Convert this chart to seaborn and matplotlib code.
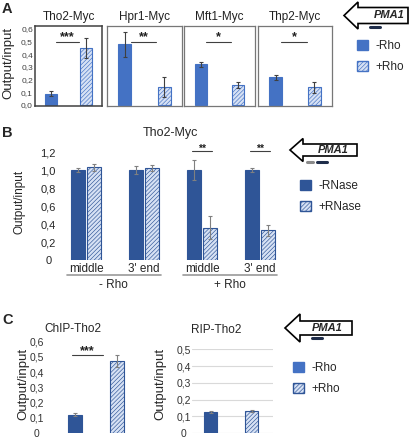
import numpy as np
import pandas as pd
import seaborn as sns
import matplotlib.pyplot as plt
import matplotlib.transforms as mtransforms
from matplotlib.patches import Patch, Polygon
from matplotlib.ticker import FixedLocator, FixedFormatter

sns.set_theme(style="white")
plt.rcParams['font.family'] = ['Liberation Sans', 'DejaVu Sans']
plt.rcParams['hatch.linewidth'] = 0.45

# ---- panel A data
a_proteins = ['Tho2-Myc', 'Hpr1-Myc', 'Mft1-Myc', 'Thp2-Myc']
a_conditions = ['-Rho', '+Rho']
a_minus_rho = [0.09, 0.48, 0.32, 0.22]
a_minus_err = [0.02, 0.10, 0.02, 0.02]
a_plus_rho = [0.45, 0.14, 0.16, 0.14]
a_plus_err = [0.08, 0.08, 0.025, 0.045]
a_stars = ['***', '**', '*', '*']
a_ticks = [0.0, 0.1, 0.2, 0.3, 0.4, 0.5, 0.6]
a_ticklabels = ['0,0', '0,1', '0,2', '0,3', '0,4', '0,5', '0,6']

# ---- panel B data
b_sites = ['middle', "3' end", 'middle', "3' end"]
b_rho = ['- Rho', '- Rho', '+ Rho', '+ Rho']
b_conditions = ['-RNase', '+RNase']
b_minus_rnase = [1.00, 1.00, 1.00, 1.00]
b_minus_err = [0.02, 0.04, 0.11, 0.02]
b_plus_rnase = [1.03, 1.02, 0.36, 0.33]
b_plus_err = [0.04, 0.03, 0.13, 0.06]
b_stars = ['', '', '**', '**']
b_ticks = [0, 0.2, 0.4, 0.6, 0.8, 1.0, 1.2]
b_ticklabels = ['0', '0,2', '0,4', '0,6', '0,8', '1,0', '1,2']

# ---- panel C data
c_titles = ['ChIP-Tho2', 'RIP-Tho2']
c_conditions = ['-Rho', '+Rho']
c_minus_rho = [0.12, 0.125]
c_minus_err = [0.01, 0.005]
c_plus_rho = [0.47, 0.13]
c_plus_err = [0.04, 0.005]
c_stars = ['***', '']
c1_ticks = [0, 0.1, 0.2, 0.3, 0.4, 0.5, 0.6]
c1_ticklabels = ['0', '0,1', '0,2', '0,3', '0,4', '0,5', '0,6']
c2_ticks = [0, 0.1, 0.2, 0.3, 0.4, 0.5]
c2_ticklabels = ['0', '0,1', '0,2', '0,3', '0,4', '0,5']

BLUE = '#4472C4'
LIGHT = '#D6E1F4'
DARK = '#2F5597'
HATCH = '////////'

W, H = 412, 440
fig = plt.figure(figsize=(W / 100, H / 100), dpi=100)


def box(l, t, r, b):
    return [l / W, 1 - b / H, (r - l) / W, (b - t) / H]


def fx(x):
    return x / W


def fy(y):
    return 1 - y / H


def pair_plot(ax, vals, errs, solid, edge, ecolor):
    sns.barplot(x=a_conditions, y=vals, hue=a_conditions, palette=[solid, LIGHT],
                width=0.32, saturation=1, legend=False, errorbar=None, ax=ax)
    ax.patches[0].set_edgecolor(solid)
    ax.patches[1].set_edgecolor(edge)
    ax.patches[1].set_hatch(HATCH)
    for p in ax.patches:
        p.set_linewidth(0.8)
    xs = [p.get_x() + p.get_width() / 2 for p in ax.patches]
    ax.errorbar(xs, vals, yerr=errs, fmt='none', ecolor=ecolor,
                elinewidth=0.8, capsize=1.6, capthick=0.8, zorder=5)


def sig(ax, x0, x1, y, stars, size=10, dy=0.0):
    ax.plot([x0, x1], [y, y], color='#404040', lw=0.8, clip_on=False)
    ax.text((x0 + x1) / 2, y + dy, stars, ha='center', va='bottom',
            fontsize=size, color='#202020', fontweight='bold', clip_on=False)


def pma1(tip, base, right, ymid, hh, sh, tx, bars):
    pts = [(tip, ymid), (base, ymid - hh), (base, ymid - sh), (right, ymid - sh),
           (right, ymid + sh), (base, ymid + sh), (base, ymid + hh)]
    poly = Polygon([(fx(x), fy(y)) for x, y in pts], closed=True, facecolor='white',
                   edgecolor='black', lw=1.2, transform=fig.transFigure)
    fig.patches.append(poly)
    fig.text(fx(tx), fy(ymid), 'PMA1', ha='center', va='center', fontsize=8,
             fontweight='bold', fontstyle='italic')
    for x0, x1, yb, col in bars:
        fig.lines.append(plt.Line2D([fx(x0), fx(x1)], [fy(yb), fy(yb)], lw=2.2,
                                    color=col, transform=fig.transFigure))


# ================= Panel A
a_boxes = [(35, 26, 102, 106), (107, 26, 182, 106), (184, 26, 255, 106), (258, 26, 332, 106)]
for i, prot in enumerate(a_proteins):
    ax = fig.add_axes(box(*a_boxes[i]))
    pair_plot(ax, [a_minus_rho[i], a_plus_rho[i]], [a_minus_err[i], a_plus_err[i]],
              BLUE, BLUE, '#404040')
    ax.set_xlim(-0.45, 1.45)
    ax.set_ylim(-0.008, 0.624)
    ax.set_xticks([])
    ax.set_xlabel('')
    ax.set_ylabel('')
    if i == 0:
        ax.yaxis.set_major_locator(FixedLocator(a_ticks))
        ax.yaxis.set_major_formatter(FixedFormatter(a_ticklabels))
        ax.tick_params(axis='y', labelsize=6, pad=1.5, length=0, colors='#404040')
    else:
        ax.set_yticks([])
    for s in ax.spines.values():
        s.set_visible(True)
        s.set_color('#404040' if i == 0 else '#777777')
        s.set_linewidth(1.1 if i == 0 else 0.9)
    ax.text(0.5, 1 + 9 / 80, prot, transform=ax.transAxes, ha='center', va='center',
            fontsize=8.5, color='#222222')
    sig(ax, 0.15, 0.8, 0.5, a_stars[i], size=9, dy=-0.01)

fig.text(fx(8), fy(63), 'Output/input', rotation=90, ha='center', va='center', fontsize=9.5)
fig.text(fx(7), fy(9), 'A', ha='center', va='center', fontsize=10.5, fontweight='bold')

fig.legend(handles=[Patch(facecolor=BLUE, edgecolor=BLUE),
                    Patch(facecolor=LIGHT, edgecolor=BLUE, hatch=HATCH)],
           labels=a_conditions, loc='upper left', bbox_to_anchor=(fx(357), fy(40)),
           borderaxespad=0, borderpad=0, frameon=False, fontsize=8.5,
           handlelength=0.95, handleheight=0.95, handletextpad=0.6, labelspacing=0.75)

pma1(344, 358, 408, 15.5, 13.5, 8, 389, [(370, 380, 27.5, '#1F2D4A')])

# ================= Panel B
b_keys = [f'{s} {r}' for s, r in zip(b_sites, b_rho)]
df_b = pd.DataFrame({
    'pos': b_keys * 2,
    'RNase': [b_conditions[0]] * 4 + [b_conditions[1]] * 4,
    'value': b_minus_rnase + b_plus_rnase,
})
axb = fig.add_axes(box(60, 143, 285, 260))
sns.barplot(data=df_b, x='pos', y='value', hue='RNase', order=b_keys,
            hue_order=b_conditions, palette=[DARK, LIGHT], width=0.55, gap=0.15,
            saturation=1, legend=False, errorbar=None, ax=axb)
bars_b = axb.patches
for p in bars_b[:4]:
    p.set_edgecolor(DARK)
    p.set_linewidth(0.8)
for p in bars_b[4:8]:
    p.set_edgecolor(DARK)
    p.set_hatch(HATCH)
    p.set_linewidth(0.8)
xs_minus = [p.get_x() + p.get_width() / 2 for p in bars_b[:4]]
xs_plus = [p.get_x() + p.get_width() / 2 for p in bars_b[4:8]]
axb.errorbar(xs_minus, b_minus_rnase, yerr=b_minus_err, fmt='none', ecolor='#808080',
             elinewidth=0.8, capsize=1.6, capthick=0.8, zorder=5)
axb.errorbar(xs_plus, b_plus_rnase, yerr=b_plus_err, fmt='none', ecolor='#808080',
             elinewidth=0.8, capsize=1.6, capthick=0.8, zorder=5)
axb.set_xlim(-0.448, 3.43)
axb.set_ylim(0, 1.3)
axb.set_xlabel('')
axb.set_ylabel('')
axb.set_xticks(range(4))
axb.set_xticklabels(b_sites, fontsize=8.5)
axb.yaxis.set_major_locator(FixedLocator(b_ticks))
axb.yaxis.set_major_formatter(FixedFormatter(b_ticklabels))
axb.tick_params(axis='x', length=0, pad=2)
axb.tick_params(axis='y', length=0, pad=8.5, labelsize=8)
for lab in axb.get_yticklabels():
    lab.set_horizontalalignment('center')
sns.despine(ax=axb, left=True, bottom=True)
for i, st in enumerate(b_stars):
    if st:
        sig(axb, i - 0.17, i + 0.17, 1.21, st, size=7.5, dy=-0.03)

trans_b = mtransforms.blended_transform_factory(axb.transData, axb.transAxes)
for grp in ['- Rho', '+ Rho']:
    idx = [i for i, r in enumerate(b_rho) if r == grp]
    x0, x1 = idx[0] - 0.33, idx[-1] + 0.29
    axb.plot([x0, x1], [-0.128, -0.128], color='#999999', lw=1.2,
             transform=trans_b, clip_on=False)
    axb.text((x0 + x1) / 2, -0.215, grp, transform=trans_b, ha='center', va='center',
             fontsize=8.5)

fig.text(fx(170), fy(133), 'Tho2-Myc', ha='center', va='center', fontsize=9)
fig.text(fx(20), fy(202), 'Output/input', rotation=90, ha='center', va='center', fontsize=8.5)
fig.text(fx(7), fy(133), 'B', ha='center', va='center', fontsize=10.5, fontweight='bold')

fig.legend(handles=[Patch(facecolor=DARK, edgecolor=DARK),
                    Patch(facecolor=LIGHT, edgecolor=DARK, hatch=HATCH)],
           labels=b_conditions, loc='upper left', bbox_to_anchor=(fx(300), fy(180)),
           borderaxespad=0, borderpad=0, frameon=False, fontsize=8.5,
           handlelength=0.95, handleheight=0.95, handletextpad=0.6, labelspacing=0.75)

pma1(290, 303, 357, 150, 11.5, 6, 333, [(307, 313, 162, '#8A8A8A'), (317, 327, 162, '#1F2D4A')])

# ================= Panel C
c_boxes = [(45, 337, 140, 433), (192, 349, 273, 433)]
c_xlims = [(-0.71, 1.55), (-0.46, 1.52)]
c_ylims = [(0, 0.63), (0, 0.502)]
c_ticks = [(c1_ticks, c1_ticklabels), (c2_ticks, c2_ticklabels)]
c_title_pos = [(73, 329), (216, 330)]
c_ylab_x = [23, 160]
for i, title in enumerate(c_titles):
    ax = fig.add_axes(box(*c_boxes[i]))
    pair_plot(ax, [c_minus_rho[i], c_plus_rho[i]], [c_minus_err[i], c_plus_err[i]],
              DARK, DARK, '#808080')
    ax.set_xlim(*c_xlims[i])
    ax.set_ylim(*c_ylims[i])
    ax.set_xticks([])
    ax.set_xlabel('')
    ax.set_ylabel('')
    ax.yaxis.set_major_locator(FixedLocator(c_ticks[i][0]))
    ax.yaxis.set_major_formatter(FixedFormatter(c_ticks[i][1]))
    ax.tick_params(axis='y', length=0, pad=6, labelsize=7.5, colors='#333333')
    for lab in ax.get_yticklabels():
        lab.set_horizontalalignment('center')
    sns.despine(ax=ax, left=True, bottom=True)
    if i == 1:
        ax.yaxis.grid(True, color='#D9D9D9', lw=0.8)
        ax.set_axisbelow(True)
    if c_stars[i]:
        sig(ax, -0.07, 0.67, 0.51, c_stars[i], size=9, dy=-0.01)
    fig.text(fx(c_title_pos[i][0]), fy(c_title_pos[i][1]), title, ha='center', va='center',
             fontsize=8.5)
    fig.text(fx(c_ylab_x[i]), fy(384), 'Output/input', rotation=90, ha='center',
             va='center', fontsize=9.5)

fig.text(fx(8), fy(320), 'C', ha='center', va='center', fontsize=10.5, fontweight='bold')

fig.legend(handles=[Patch(facecolor=BLUE, edgecolor=BLUE),
                    Patch(facecolor=LIGHT, edgecolor=DARK, hatch=HATCH)],
           labels=c_conditions, loc='upper left', bbox_to_anchor=(fx(293), fy(362)),
           borderaxespad=0, borderpad=0, frameon=False, fontsize=8.5,
           handlelength=0.95, handleheight=0.95, handletextpad=0.6, labelspacing=0.75)

pma1(285, 300, 352, 328, 14, 7, 327, [(312, 322, 338, '#1F2D4A')])

fig.savefig('out.png', dpi=100)
